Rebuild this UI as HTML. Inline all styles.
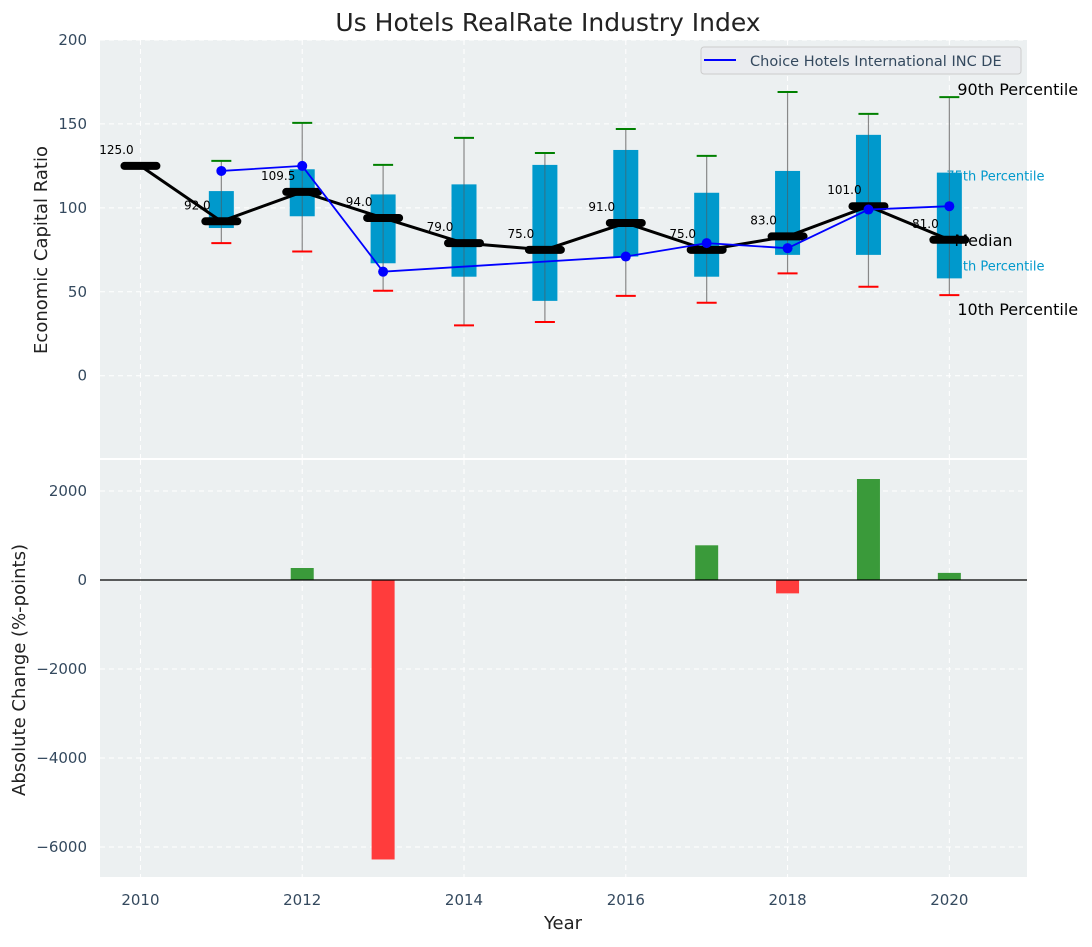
<!DOCTYPE html>
<html><head><meta charset="utf-8"><style>
body{margin:0;background:#fff;font-family:"Liberation Sans","DejaVu Sans",sans-serif}
svg text{font-family:"DejaVu Sans","Liberation Sans",sans-serif}
</style></head><body>
<svg id="c" width="1092" height="942" xmlns="http://www.w3.org/2000/svg"></svg>
<script>
const years=[2010,2011,2012,2013,2014,2015,2016,2017,2018,2019,2020];
const medians=[125,92,109.5,94,79,75,91,75,83,101,81];
const q75=[null,110,123,108,114,125.6,134.5,109,122,143.5,121];
const q25=[null,88,95,67,59,44.6,71,59,72,72,58];
const p90=[null,128,150.6,125.6,141.7,132.7,147,131,169,156,166];
const p10=[null,79,74,50.6,30,32,47.6,43.5,61,53,48];
const company=[null,122,125,62,null,null,71,79,76,99,101];
const changes=[null,null,270,-6280,null,null,null,780,-300,2270,160];
const yTicksTop=[0,50,100,150,200];
const yTicksBot=[-6000,-4000,-2000,0,2000];
const xTicks=[2010,2012,2014,2016,2018,2020];

const NS="http://www.w3.org/2000/svg";
const svg=document.getElementById('c');
function el(t,a,p){const e=document.createElementNS(NS,t);for(const k in a)e.setAttribute(k,a[k]);(p||svg).appendChild(e);return e;}
const L=100,R=1027;
const X=v=>L+(v-2009.5)/(2020.96-2009.5)*(R-L);
const T0=40,T1=458,B0=460,B1=877;
const YT=v=>T1-(v-(-49))/(200+49)*(T1-T0);
const YB=v=>B1-(v-(-6674))/(2697+6674)*(B1-B0);

let e=el('rect',{x:L,y:T0,width:R-L,height:T1-T0,fill:'#ecf0f1'});

e=el('rect',{x:L,y:B0,width:R-L,height:B1-B0,fill:'#ecf0f1'});


xTicks.forEach(t=>{
  el('line',{x1:X(t),x2:X(t),y1:T0,y2:T1,stroke:'#fff','stroke-dasharray':'5,4','stroke-width':1});
  el('line',{x1:X(t),x2:X(t),y1:B0,y2:B1,stroke:'#fff','stroke-dasharray':'5,4','stroke-width':1});
  const tx=el('text',{x:X(t),y:905,'text-anchor':'middle','font-size':15,fill:'#34495e'});tx.textContent=t;
  
});
yTicksTop.forEach(t=>{
  el('line',{x1:L,x2:R,y1:YT(t),y2:YT(t),stroke:'#fff','stroke-dasharray':'5,4'});
  const tx=el('text',{x:87,y:YT(t)+5,'text-anchor':'end','font-size':15,fill:'#34495e'});tx.textContent=t;
  
});
yTicksBot.forEach(t=>{
  el('line',{x1:L,x2:R,y1:YB(t),y2:YB(t),stroke:'#fff','stroke-dasharray':'5,4'});
  const tx=el('text',{x:87,y:YB(t)+5,'text-anchor':'end','font-size':15,fill:'#34495e'});tx.textContent=t<0?'\u2212'+(-t):t;
  
});

// cyan labels drawn before boxes (partially hidden)
let c1=el('text',{x:X(2020)-3,y:YT(q75[10])+8,'font-size':13,fill:'#0099cc'});c1.textContent='75th Percentile';

let c2=el('text',{x:X(2020)-3,y:YT(q25[10])-8,'font-size':13,fill:'#0099cc'});c2.textContent='25th Percentile';


years.forEach((y,i)=>{
  if(p90[i]!=null){
    el('line',{x1:X(y),x2:X(y),y1:YT(p90[i]),y2:YT(p10[i]),stroke:'#888','stroke-width':1.2});
  }
  if(q75[i]!=null){
    const b=el('rect',{x:X(y)-12.5,y:YT(q75[i]),width:25,height:YT(q25[i])-YT(q75[i]),fill:'#0099cc'});
    
    el('line',{x1:X(y),x2:X(y),y1:YT(q75[i]),y2:YT(q25[i]),stroke:'#555','stroke-width':1,opacity:0.6});
  }
  if(p90[i]!=null){
    const a=el('line',{x1:X(y)-10,x2:X(y)+10,y1:YT(p90[i]),y2:YT(p90[i]),stroke:'green','stroke-width':2});
    
    const c=el('line',{x1:X(y)-10,x2:X(y)+10,y1:YT(p10[i]),y2:YT(p10[i]),stroke:'red','stroke-width':2});
    
  }
});
let d=years.map((y,i)=>(i?'L':'M')+X(y)+','+YT(medians[i])).join('');
e=el('path',{d:d,fill:'none',stroke:'#000','stroke-width':3});

years.forEach((y,i)=>{
  const m=el('line',{x1:X(y)-16,x2:X(y)+16,y1:YT(medians[i]),y2:YT(medians[i]),stroke:'#000','stroke-width':8,'stroke-linecap':'round'});
  
  const t=el('text',{x:X(y)-24,y:YT(medians[i])-12,'text-anchor':'middle','font-size':12,fill:'#000'});t.textContent=medians[i].toFixed(1);
  
});
const pts=years.map((y,i)=>company[i]==null?null:[X(y),YT(company[i])]).filter(p=>p);
e=el('path',{d:pts.map((p,i)=>(i?'L':'M')+p[0]+','+p[1]).join(''),fill:'none',stroke:'#0000ff','stroke-width':1.8});

pts.forEach(p=>{const c=el('circle',{cx:p[0],cy:p[1],r:5,fill:'#0000ff'});
  });

let a1=el('text',{x:X(2020)+8,y:YT(p90[10])-2,'font-size':16,fill:'#000'});a1.textContent='90th Percentile';

let a2=el('text',{x:X(2020)+5,y:YT(medians[10])+6,'font-size':16,fill:'#000'});a2.textContent='Median';

let a3=el('text',{x:X(2020)+8,y:YT(p10[10])+20,'font-size':16,fill:'#000'});a3.textContent='10th Percentile';


const lg=el('g',{});

el('rect',{x:701,y:47,width:320,height:27,rx:3,fill:'#eaecef',stroke:'#ccc'},lg);
el('line',{x1:704,x2:736,y1:60,y2:60,stroke:'#0000ff','stroke-width':2},lg);
let lt=el('text',{x:750,y:66,'font-size':14.5,fill:'#34495e'},lg);lt.textContent='Choice Hotels International INC DE';

years.forEach((y,i)=>{
  if(changes[i]==null)return;
  const v=changes[i];
  const b=el('rect',{x:X(y)-11.5,y:Math.min(YB(v),YB(0)),width:23,height:Math.abs(YB(v)-YB(0)),fill:v>=0?'#3a9a3a':'#ff3c3c'});
  
});
el('line',{x1:L,x2:R,y1:YB(0),y2:YB(0),stroke:'#000','stroke-width':1.3});

let t=el('text',{x:548,y:31,'text-anchor':'middle','font-size':25,fill:'#222'});t.textContent='Us Hotels RealRate Industry Index';

t=el('text',{x:563,y:929,'text-anchor':'middle','font-size':18,fill:'#222'});t.textContent='Year';

t=el('text',{x:0,y:0,'text-anchor':'middle','font-size':18,fill:'#222',transform:'translate(47,250) rotate(-90)'});t.textContent='Economic Capital Ratio';

t=el('text',{x:0,y:0,'text-anchor':'middle','font-size':18,fill:'#222',transform:'translate(25,670) rotate(-90)'});t.textContent='Absolute Change (%-points)';

</script>
</body></html>
